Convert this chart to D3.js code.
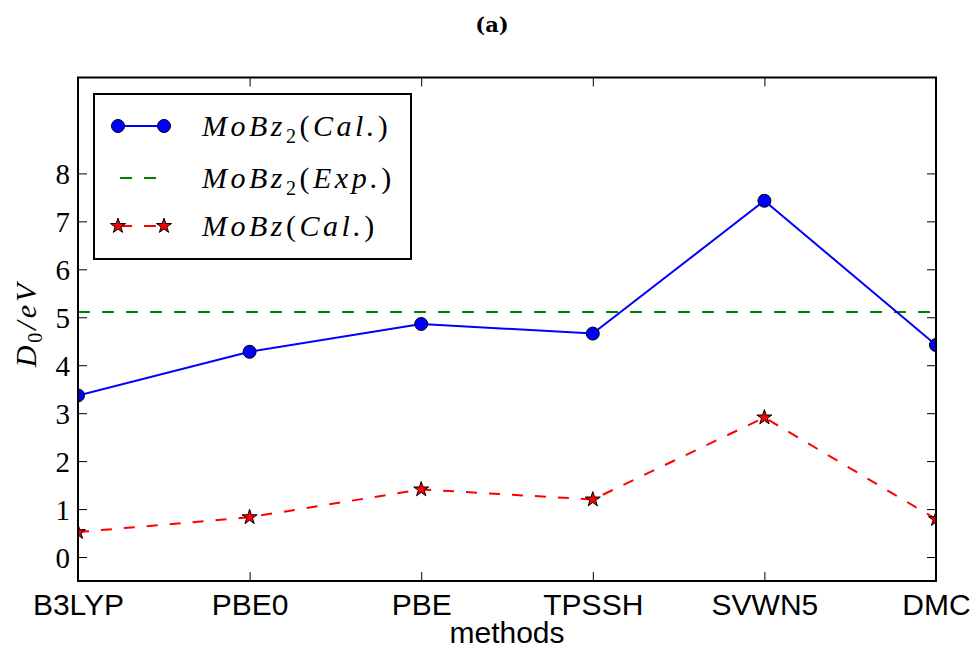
<!DOCTYPE html>
<html lang="en">
<head>
<meta charset="UTF-8">
<title>(a)</title>
<script src="https://d3js.org/d3.v7.min.js"></script>
<style>
    body { margin: 0; background: #fff; }
    .ytick text { font-family: "Liberation Serif", serif; font-size: 29px; }
    .xtick text { font-family: "Liberation Sans", Arial, sans-serif; font-size: 30px; }
    .math { font-family: "Liberation Serif", serif; font-style: italic; }
</style>
</head>
<body>
<svg width="976" height="651"></svg>
<script>
var methods = ["B3LYP", "PBE0", "PBE", "TPSSH", "SVWN5", "DMC"];
var mobz2Cal = [3.37, 4.28, 4.86, 4.66, 7.43, 4.42];
var mobz2Exp = 5.11;
var mobzCal = [0.52, 0.83, 1.41, 1.20, 2.91, 0.79];
var yTicks = [0, 1, 2, 3, 4, 5, 6, 7, 8];

var svg = d3.select("svg");
var pLeft = 78, pRight = 936, pTop = 77.5, pBottom = 581;

var x = d3.scalePoint().domain(methods).range([pLeft, pRight]);
var y = d3.scaleLinear().domain([-0.5, 10]).range([pBottom, pTop]);

// title
svg.append("text").attr("x", 492).attr("y", 32).attr("text-anchor", "middle")
    .style("font-family", "DejaVu Serif, serif").style("font-weight", "bold").style("font-size", "21px")
    .text("(a)");

// clip data to the axes box, like matplotlib does
svg.append("defs").append("clipPath").attr("id", "plotclip")
    .append("rect").attr("x", pLeft).attr("y", pTop).attr("width", pRight - pLeft).attr("height", pBottom - pTop);

// axes, ticks pointing inward
var yl = svg.append("g").attr("class", "ytick").attr("transform", "translate(" + pLeft + ",0)")
    .call(d3.axisLeft(y).tickValues(yTicks).tickSizeInner(-9).tickSizeOuter(0).tickPadding(8));
var yr = svg.append("g").attr("transform", "translate(" + pRight + ",0)")
    .call(d3.axisRight(y).tickValues(yTicks).tickSizeInner(-9).tickSizeOuter(0).tickFormat(""));
var xb = svg.append("g").attr("class", "xtick").attr("transform", "translate(0," + pBottom + ")")
    .call(d3.axisBottom(x).tickSizeInner(-9).tickSizeOuter(0).tickPadding(8));
var xt = svg.append("g").attr("transform", "translate(0," + pTop + ")")
    .call(d3.axisTop(x).tickSizeInner(-9).tickSizeOuter(0).tickFormat(""));
svg.selectAll(".domain").remove();
svg.selectAll(".tick line").attr("stroke", "#000").attr("stroke-width", 1);
yl.selectAll("text").attr("dy", "0.36em").attr("fill", "#000");
xb.selectAll("text").attr("dy", "0.85em").attr("fill", "#000");

var plot = svg.append("g").attr("clip-path", "url(#plotclip)");

var line = d3.line().x(function(d, i) { return x(methods[i]); }).y(function(d) { return y(d); });

// experimental reference line
plot.append("line").attr("x1", pLeft).attr("x2", pRight).attr("y1", y(mobz2Exp)).attr("y2", y(mobz2Exp))
    .attr("stroke", "#008000").attr("stroke-width", 2).attr("stroke-dasharray", "12,12");

// MoBz2 calculated
plot.append("path").datum(mobz2Cal).attr("d", line).attr("fill", "none")
    .attr("stroke", "#0000ff").attr("stroke-width", 2);
plot.append("g").selectAll("circle").data(mobz2Cal).enter().append("circle")
    .attr("cx", function(d, i) { return x(methods[i]); }).attr("cy", function(d) { return y(d); })
    .attr("r", 6.5).attr("fill", "#0000ff").attr("stroke", "#000").attr("stroke-width", 1);

// MoBz calculated
var star = d3.symbol().type(d3.symbolStar).size(70);
plot.append("path").datum(mobzCal).attr("d", line).attr("fill", "none")
    .attr("stroke", "#ff0000").attr("stroke-width", 2).attr("stroke-dasharray", "11,12");
plot.append("g").selectAll("path").data(mobzCal).enter().append("path")
    .attr("d", star)
    .attr("transform", function(d, i) { return "translate(" + x(methods[i]) + "," + y(d) + ")"; })
    .attr("fill", "#ff0000").attr("stroke", "#000").attr("stroke-width", 1);

// frame
svg.append("rect").attr("x", pLeft).attr("y", pTop).attr("width", pRight - pLeft).attr("height", pBottom - pTop)
    .attr("fill", "none").attr("stroke", "#000").attr("stroke-width", 2);

// axis labels
svg.append("text").attr("x", 507).attr("y", 643).attr("text-anchor", "middle")
    .style("font-family", "Liberation Sans, Arial, sans-serif").style("font-size", "30px").text("methods");

var ylab = svg.append("text").attr("class", "math").attr("text-anchor", "middle")
    .attr("transform", "translate(36,324) rotate(-90)").style("font-size", "30px").style("letter-spacing", "3px");
ylab.append("tspan").text("D");
ylab.append("tspan").attr("dy", 6).style("font-style", "normal").style("font-size", "20px").text("0");
ylab.append("tspan").attr("dy", -6).text("/eV");

// legend
var lg = svg.append("g");
lg.append("rect").attr("x", 94).attr("y", 94).attr("width", 317).attr("height", 165)
    .attr("fill", "#fff").attr("stroke", "#000").attr("stroke-width", 2);
var rows = [126, 178, 226];
lg.append("line").attr("x1", 118).attr("x2", 164).attr("y1", rows[0]).attr("y2", rows[0])
    .attr("stroke", "#0000ff").attr("stroke-width", 2);
[118, 164].forEach(function(cx) {
    lg.append("circle").attr("cx", cx).attr("cy", rows[0]).attr("r", 6.5)
        .attr("fill", "#0000ff").attr("stroke", "#000");
});
lg.append("line").attr("x1", 118).attr("x2", 164).attr("y1", rows[1]).attr("y2", rows[1])
    .attr("stroke", "#008000").attr("stroke-width", 2).attr("stroke-dasharray", "12,12").attr("stroke-dashoffset", -2);
lg.append("line").attr("x1", 118).attr("x2", 164).attr("y1", rows[2]).attr("y2", rows[2])
    .attr("stroke", "#ff0000").attr("stroke-width", 2).attr("stroke-dasharray", "12,12").attr("stroke-dashoffset", -2);
[118, 164].forEach(function(cx) {
    lg.append("path").attr("d", star).attr("transform", "translate(" + cx + "," + rows[2] + ")")
        .attr("fill", "#ff0000").attr("stroke", "#000");
});

function legendText(yy, parts) {
    var t = lg.append("text").attr("class", "math").attr("x", 202).attr("y", yy + 10)
        .style("font-size", "30px").style("letter-spacing", "3.5px");
    parts.forEach(function(p) {
        var s = t.append("tspan").text(p[0]);
        if (p[1] === "sub") s.attr("dy", 7).style("font-style", "normal").style("font-size", "20px");
        if (p[1] === "up") s.attr("dy", -7).style("font-style", "normal");
        if (p[1] === "roman") s.style("font-style", "normal");
    });
}
legendText(rows[0], [["MoBz"], ["2", "sub"], ["(", "up"], ["Cal."], [")", "roman"]]);
legendText(rows[1], [["MoBz"], ["2", "sub"], ["(", "up"], ["Exp."], [")", "roman"]]);
legendText(rows[2], [["MoBz"], ["(", "roman"], ["Cal."], [")", "roman"]]);
</script>
</body>
</html>
